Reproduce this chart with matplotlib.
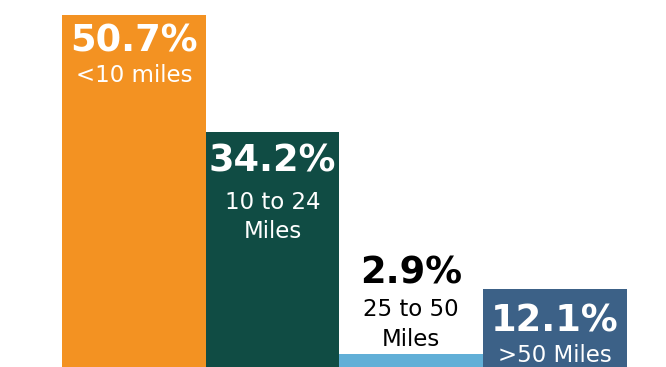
import numpy as np
import matplotlib.pyplot as plt

# data
shares = [50.7, 34.2, 2.9, 12.1]
pct_labels = ["50.7%", "34.2%", "2.9%", "12.1%"]
dist_labels = ["<10 miles", "10 to 24\nMiles", "25 to 50\nMiles", ">50 Miles"]
colors = ["#F39222", "#104C44", "#61AFD7", "#3C6187"]
text_colors = ["white", "white", "black", "white"]
widths = [1.02, 0.94, 1.02, 1.02]

fig = plt.figure(figsize=(6.66, 3.67), dpi=100)
ax = fig.add_axes([0, 0, 1, 1])

lefts = np.concatenate([[0], np.cumsum(widths)[:-1]])
ax.bar(lefts, shares, width=widths, align="edge", color=colors, linewidth=0)
centers = lefts + np.array(widths) / 2

ax.set_xlim(-0.439, 4.276)
ax.set_ylim(1.11, 52.85)
ax.axis("off")

H = 367.0
# baselines (pixels from top) for percentage and label lines
pct_y = [51, 172, 284, 331]
line_y = [[82.5], [209, 238], [316, 346], [362.5]]

font = "DejaVu Sans"
for i in range(4):
    ax.text(centers[i], 1 - pct_y[i] / H, pct_labels[i], transform=ax.get_xaxis_transform(),
            ha="center", va="baseline", fontsize=26.5, fontweight="bold",
            color=text_colors[i], family=font)
    for txt, y in zip(dist_labels[i].split("\n"), line_y[i]):
        ax.text(centers[i], 1 - y / H, txt, transform=ax.get_xaxis_transform(),
                ha="center", va="baseline", fontsize=16.5,
                color=text_colors[i], family=font)

fig.savefig("out.png", dpi=100)
